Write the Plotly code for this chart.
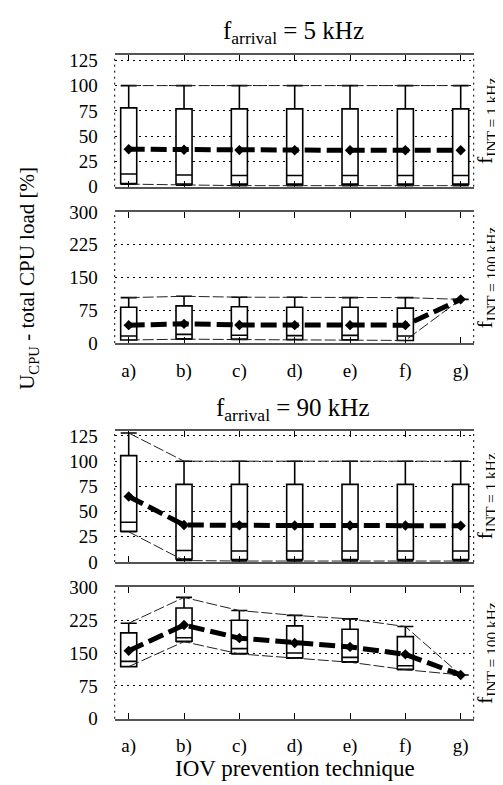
import plotly.graph_objects as go

W, H = 503, 785

techniques = ["a)", "b)", "c)", "d)", "e)", "f)", "g)"]

# f_arrival = 5 kHz, f_INT = 1 kHz
max_5_1 = [100, 100, 100, 100, 100, 100, 100]
q3_5_1 = [78, 77, 77, 77, 77, 77, 77]
med_5_1 = [12.5, 11.5, 11, 11, 11, 11, 11]
q1_5_1 = [3, 2.5, 2.5, 2.5, 2.5, 2.5, 2.5]
min_5_1 = [2.5, 1.5, 1, 1, 1, 1, 1]
mean_5_1 = [37, 36.5, 36.2, 36, 36, 36, 36]

# f_arrival = 5 kHz, f_INT = 100 kHz
max_5_100 = [104, 107, 105, 105, 104, 104, 100]
q3_5_100 = [82, 85, 83, 82, 82, 80, 100]
med_5_100 = [16, 20, 18, 17, 17.5, 16, 100]
q1_5_100 = [7, 10, 9, 8, 7.5, 6, 100]
min_5_100 = [7, 9, 8, 7.5, 7, 6, 100]
mean_5_100 = [41, 44, 41.5, 41, 41, 41, 100]

# f_arrival = 90 kHz, f_INT = 1 kHz
max_90_1 = [128, 100, 100, 100, 100, 100, 100]
q3_90_1 = [105.5, 77, 77, 77, 77, 77, 77]
med_90_1 = [39.5, 11.5, 11, 11, 11, 11, 11]
q1_90_1 = [30.5, 3, 2.5, 2.5, 2.5, 2.5, 2.5]
min_90_1 = [30, 1.5, 1, 1, 1, 1, 1]
mean_90_1 = [65, 36.8, 36.4, 36.3, 36.2, 36.2, 36]

# f_arrival = 90 kHz, f_INT = 100 kHz
max_90_100 = [218, 277, 247, 236, 228, 210.5, 100]
q3_90_100 = [196, 253, 225, 212, 204.5, 187.5, 100]
med_90_100 = [131, 185, 160, 150, 140, 121, 100]
q1_90_100 = [119, 177, 149, 139, 130, 113, 100]
min_90_100 = [119, 176, 148, 138, 129, 112, 100]
mean_90_100 = [155, 214, 184, 173, 164, 147, 100]

yticks_1k = [0, 25, 50, 75, 100, 125]
yticks_100k = [0, 75, 150, 225, 300]

titles = ["f<sub>arrival</sub> = 5 kHz", "f<sub>arrival</sub> = 90 kHz"]
right_labels = ["f<sub>INT = 1 kHz</sub>", "f<sub>INT = 100 kHz</sub>"]

FONT = "Liberation Serif"

panels = [
    dict(mx=max_5_1, q3=q3_5_1, md=med_5_1, q1=q1_5_1, mn=min_5_1, mean=mean_5_1,
         ticks=yticks_1k, yr=[0, 130], top=38.3, bot=173.3, labels=False, rl=right_labels[0]),
    dict(mx=max_5_100, q3=q3_5_100, md=med_5_100, q1=q1_5_100, mn=min_5_100, mean=mean_5_100,
         ticks=yticks_100k, yr=[0, 300], top=199.3, bot=334, labels=True, rl=right_labels[1]),
    dict(mx=max_90_1, q3=q3_90_1, md=med_90_1, q1=q1_90_1, mn=min_90_1, mean=mean_90_1,
         ticks=yticks_1k, yr=[0, 130], top=424.3, bot=559, labels=False, rl=right_labels[0]),
    dict(mx=max_90_100, q3=q3_90_100, md=med_90_100, q1=q1_90_100, mn=min_90_100, mean=mean_90_100,
         ticks=yticks_100k, yr=[0, 300], top=585, bot=720, labels=True, rl=right_labels[1]),
]

x_left, x_right = 106.7, 465.7

fig = go.Figure()
layout = dict(
    width=W, height=H, margin=dict(l=0, r=0, t=0, b=0),
    paper_bgcolor="white", plot_bgcolor="white", showlegend=False,
    font=dict(family=FONT, size=19, color="black"),
)
shapes = []
annotations = []

for i, p in enumerate(panels):
    n = i + 1
    xa = "x" if n == 1 else f"x{n}"
    ya = "y" if n == 1 else f"y{n}"
    xkey = "xaxis" if n == 1 else f"xaxis{n}"
    ykey = "yaxis" if n == 1 else f"yaxis{n}"

    fig.add_trace(go.Box(
        x=techniques, q1=p["q1"], median=p["md"], q3=p["q3"],
        lowerfence=p["mn"], upperfence=p["mx"],
        width=0.29, whiskerwidth=1, boxpoints=False,
        fillcolor="white", line=dict(color="black", width=1.6),
        xaxis=xa, yaxis=ya, hoverinfo="skip",
    ))
    for series in (p["mx"], p["mn"]):
        fig.add_trace(go.Scatter(
            x=techniques, y=series, mode="lines",
            line=dict(color="#222", width=1, dash="11px,3px"),
            xaxis=xa, yaxis=ya, hoverinfo="skip",
        ))
    fig.add_trace(go.Scatter(
        x=techniques, y=p["mean"], mode="lines+markers",
        line=dict(color="black", width=5, dash="16px,6px"),
        marker=dict(symbol="diamond", size=8, color="black"),
        xaxis=xa, yaxis=ya, hoverinfo="skip",
    ))

    layout[xkey] = dict(
        domain=[x_left / W, x_right / W], anchor=ya,
        type="category", categoryorder="array", categoryarray=techniques,
        range=[-0.253, 6.235],
        showline=True, linecolor="#555", linewidth=1.5, mirror="ticks",
        ticks="inside", ticklen=6, tickcolor="black", tickwidth=1,
        showticklabels=p["labels"], ticklabelstandoff=9,
        tickfont=dict(family=FONT, size=19),
        showgrid=False, zeroline=False,
    )
    layout[ykey] = dict(
        domain=[(H - p["bot"]) / H, (H - p["top"]) / H], anchor=xa,
        range=p["yr"], tickvals=p["ticks"],
        showgrid=True, gridcolor="black", gridwidth=1, griddash="2px,4px",
        showline=False, zeroline=False, ticks="", ticklabelstandoff=16,
        tickfont=dict(family=FONT, size=19),
    )
    for xd in (0, 1):
        shapes.append(dict(
            type="line", xref=f"{xa} domain", yref=f"{ya} domain",
            x0=xd, x1=xd, y0=0, y1=1,
            line=dict(color="black", width=1, dash="2px,4px"), layer="below",
        ))
    annotations.append(dict(
        text=p["rl"], xref="paper", yref="paper",
        x=478 / W, y=(H - (p["top"] + p["bot"]) / 2) / H,
        xanchor="center", yanchor="middle", textangle=-90, showarrow=False,
        font=dict(family=FONT, size=22),
    ))

annotations.append(dict(text=titles[0], xref="paper", yref="paper",
                        x=285 / W, y=(H - 15) / H, xanchor="center", yanchor="middle",
                        showarrow=False, font=dict(family=FONT, size=25)))
annotations.append(dict(text=titles[1], xref="paper", yref="paper",
                        x=285 / W, y=(H - 402) / H, xanchor="center", yanchor="middle",
                        showarrow=False, font=dict(family=FONT, size=25)))
annotations.append(dict(text="IOV prevention technique", xref="paper", yref="paper",
                        x=287 / W, y=(H - 771) / H, xanchor="center", yanchor="middle",
                        showarrow=False, font=dict(family=FONT, size=23)))
annotations.append(dict(text="U<sub>CPU</sub> - total CPU load [%]", xref="paper", yref="paper",
                        x=20 / W, y=(H - 268) / H, xanchor="center", yanchor="middle",
                        textangle=-90, showarrow=False, font=dict(family=FONT, size=21)))

layout["shapes"] = shapes
layout["annotations"] = annotations
fig.update_layout(**layout)
fig.write_html("out.html")
